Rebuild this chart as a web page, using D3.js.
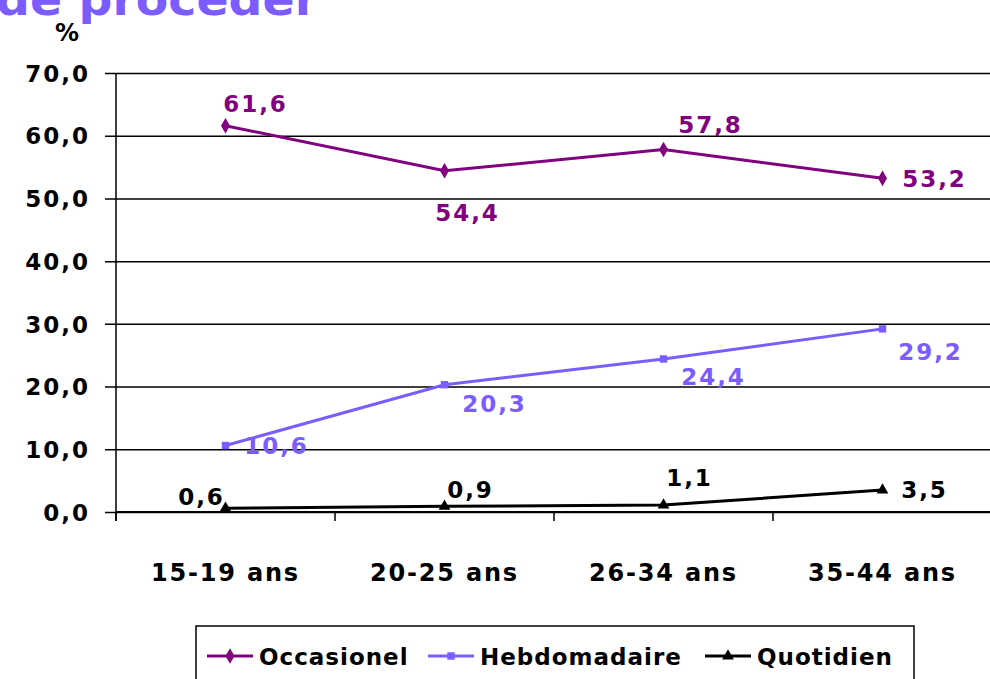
<!DOCTYPE html>
<html>
<head>
<meta charset="utf-8">
<script src="https://cdn.jsdelivr.net/npm/d3@7"></script>
<style>
  body { margin: 0; background: #fff; }
  svg text { font-family: "DejaVu Sans", sans-serif; font-weight: bold; }
</style>
</head>
<body>
<svg id="chart" width="990" height="679"></svg>
<script>
// data
var categories = ["15-19 ans", "20-25 ans", "26-34 ans", "35-44 ans"];
var occasionel = [61.6, 54.4, 57.8, 53.2];
var hebdomadaire = [10.6, 20.3, 24.4, 29.2];
var quotidien = [0.6, 0.9, 1.1, 3.5];
var seriesNames = ["Occasionel", "Hebdomadaire", "Quotidien"];
var yTicks = [0, 10, 20, 30, 40, 50, 60, 70];

var svg = d3.select("#chart");
var W = 990, H = 679;
var mLeft = 116, mRight = 992, mTop = 73, mBottom = 512;

var x = d3.scaleBand().domain(categories).range([mLeft, mRight]);
var y = d3.scaleLinear().domain([0, 70]).range([mBottom, mTop]);
var fmt = function(v) { return d3.format(".1f")(v).replace(".", ","); };

// cut-off title at the top (only its lower part is visible)
svg.append("text").attr("x", -4).attr("y", 15)
  .style("font-weight", "600")
  .attr("font-size", 44).attr("fill", "#7B5CFF")
  .attr("textLength", 322).attr("lengthAdjust", "spacingAndGlyphs")
  .text("de procéder");

svg.append("text").attr("x", 67).attr("y", 41).attr("text-anchor", "middle")
  .attr("font-size", 24).attr("fill", "#000").text("%");

// gridlines + y axis
var yAxis = d3.axisLeft(y).tickValues(yTicks).tickFormat(fmt).tickSize(-(W - mLeft)).tickPadding(26);
var gy = svg.append("g").attr("transform", "translate(" + mLeft + ",0)").call(yAxis);
gy.select(".domain").remove();
gy.selectAll(".tick line").attr("x1", -11).attr("stroke", "#000").attr("stroke-width", 1.5);
gy.selectAll(".tick text").attr("font-size", 23).attr("fill", "#000").attr("letter-spacing", 2)
  .attr("dy", "0.36em");
svg.append("line").attr("x1", mLeft).attr("x2", mLeft).attr("y1", mTop).attr("y2", mBottom + 9)
  .attr("stroke", "#000").attr("stroke-width", 1.5);

// x axis
var xAxis = d3.axisBottom(x).tickSize(0).tickPadding(0);
var gx = svg.append("g").attr("transform", "translate(0," + mBottom + ")").call(xAxis);
gx.select(".domain").remove();
gx.selectAll(".tick text").attr("font-size", 24).attr("fill", "#000").attr("y", 69).attr("dy", 0)
  .attr("letter-spacing", 1.8);
svg.selectAll(".xtick").data(categories.concat(["end"])).enter().append("line")
  .attr("x1", function(d) { return d === "end" ? mRight : x(d); })
  .attr("x2", function(d) { return d === "end" ? mRight : x(d); })
  .attr("y1", mBottom).attr("y2", mBottom + 9).attr("stroke", "#000").attr("stroke-width", 1.5);
svg.append("line").attr("x1", mLeft).attr("x2", W).attr("y1", mBottom).attr("y2", mBottom)
  .attr("stroke", "#000").attr("stroke-width", 2);

var cx = function(d, i) { return x(categories[i]) + x.bandwidth() / 2; };

var series = [
  { name: seriesNames[0], values: occasionel, color: "#800080", symbol: d3.symbolDiamond, size: 70,
    lab: [[30, -14], [23, 50], [47, -17], [52, 9]] },
  { name: seriesNames[1], values: hebdomadaire, color: "#7B5CFF", symbol: d3.symbolSquare, size: 55,
    lab: [[51, 8], [50, 27], [50, 26], [48, 31]] },
  { name: seriesNames[2], values: quotidien, color: "#000000", symbol: d3.symbolTriangle, size: 60,
    lab: [[-24, -3], [26, -8], [26, -19], [42, 8]] }
];

var line = d3.line().x(cx).y(function(d) { return y(d); });

series.forEach(function(s) {
  var g = svg.append("g");
  g.append("path").datum(s.values).attr("d", line).attr("fill", "none")
    .attr("stroke", s.color).attr("stroke-width", 3);
  g.selectAll("path.m").data(s.values).enter().append("path").attr("class", "m")
    .attr("d", d3.symbol().type(s.symbol).size(s.size))
    .attr("transform", function(d, i) { return "translate(" + cx(d, i) + "," + y(d) + ")"; })
    .attr("fill", s.color);
  g.selectAll("text").data(s.values).enter().append("text")
    .attr("x", function(d, i) { return cx(d, i) + s.lab[i][0]; })
    .attr("y", function(d, i) { return y(d) + s.lab[i][1]; })
    .attr("text-anchor", "middle").attr("font-size", 23).attr("letter-spacing", 2)
    .attr("fill", s.color).text(fmt);
});

// legend
var lg = svg.append("g");
lg.append("rect").attr("x", 196).attr("y", 626).attr("width", 718).attr("height", 70)
  .attr("fill", "#fff").attr("stroke", "#000").attr("stroke-width", 1.5);
var lx = [207, 428, 705];
series.forEach(function(s, i) {
  lg.append("line").attr("x1", lx[i]).attr("x2", lx[i] + 46).attr("y1", 656).attr("y2", 656)
    .attr("stroke", s.color).attr("stroke-width", 3);
  lg.append("path").attr("d", d3.symbol().type(s.symbol).size(s.size))
    .attr("transform", "translate(" + (lx[i] + 23) + ",656)").attr("fill", s.color);
  lg.append("text").attr("x", lx[i] + 52).attr("y", 665).attr("font-size", 23)
    .attr("letter-spacing", 1).attr("fill", "#000").text(s.name);
});
</script>
</body>
</html>
